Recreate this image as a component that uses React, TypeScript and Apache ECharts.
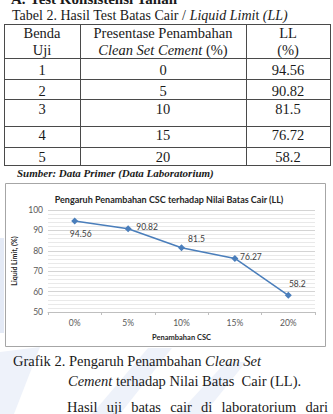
import React, { useEffect, useRef } from 'react';
import * as echarts from 'echarts';

// ---- Data ----
const categories = ['0%', '5%', '10%', '15%', '20%'];
const liquidLimit = [94.56, 90.82, 81.5, 76.27, 58.2];
const yMin = 50;
const yMax = 100;
const yInterval = 10;

const bendaUji = ['1', '2', '3', '4', '5'];
const persenCSC = ['0', '5', '10', '15', '20'];
const llTable = ['94.56', '90.82', '81.5', '76.72', '58.2'];

const chartTitle = 'Pengaruh Penambahan CSC terhadap Nilai Batas Cair (LL)';
const xName = 'Penambahan CSC';
const yName = 'Liquid Limit, (%)';
const paragraphWords = 'Hasil uji batas cair di laboratorium dari'.split(' ');

// ---- Styles / layout ----
const SERIF = '"Liberation Serif", "Times New Roman", serif';
const SANS = 'Lato, "Open Sans", "Liberation Sans", sans-serif';
const BLUE = '#4a7ebb';
const labelOffsets = [[6, 13], [19, -2], [15, -9], [16, -1], [9, -11]];
const tableHLines = [24, 58, 79, 99, 126, 147, 165];
const tableVLines = [4, 80, 246, 330];
const colCenters = [42, 163, 288];
const rowTextY = [70, 91, 109, 135, 157];

function measure(text: string, font: string): number {
  const c = document.createElement('canvas');
  const ctx = c.getContext('2d');
  if (!ctx) return text.length * 6;
  ctx.font = font;
  return ctx.measureText(text).width;
}

function buildGraphic(): any[] {
  const els: any[] = [];
  const txt = (text: string, x: number, y: number, size: number, opts: any = {}) => ({
    type: 'text',
    silent: true,
    style: {
      text,
      x,
      y,
      fontFamily: SERIF,
      fontSize: size,
      fill: '#1a1a1a',
      textAlign: opts.align || 'left',
      textVerticalAlign: 'middle',
      fontWeight: opts.weight || 'normal',
      fontStyle: opts.style || 'normal',
      rich: opts.rich,
    },
  });
  // watermark (faint)
  const wm = '#eef2fa';
  els.push({ type: 'rect', silent: true, z: -10, shape: { x: 0, y: 238, width: 4, height: 95 }, style: { fill: '#e4eaf6' } });
  els.push({ type: 'polygon', silent: true, z: -10, shape: { points: [[0, 352], [40, 347], [14, 414], [0, 414]] }, style: { fill: wm } });
  els.push({ type: 'polygon', silent: true, z: -10, shape: { points: [[92, 414], [148, 348], [172, 348], [120, 414]] }, style: { fill: wm } });
  els.push({ type: 'polygon', silent: true, z: -10, shape: { points: [[178, 414], [226, 362], [246, 362], [204, 414]] }, style: { fill: wm } });

  // heading (cut off at top)
  els.push(txt('A.', 11, -1, 15, { weight: 'bold' }));
  els.push(txt('Test Konsistensi Tanah', 30, -1, 15, { weight: 'bold' }));

  // table title
  els.push(txt('{n|Tabel 2. Hasil Test Batas Cair / }{i|Liquid Limi}{n|t }{i|(LL)}', 12, 15, 14, {
    rich: {
      n: { fontFamily: SERIF, fontSize: 14, fill: '#1a1a1a' },
      i: { fontFamily: SERIF, fontSize: 14, fontStyle: 'italic', fill: '#1a1a1a' },
    },
  }));

  // table lines
  tableHLines.forEach((y) => {
    els.push({ type: 'line', silent: true, shape: { x1: tableVLines[0], y1: y + 0.5, x2: tableVLines[3], y2: y + 0.5 }, style: { stroke: '#4a4a4a', lineWidth: 1 } });
  });
  tableVLines.forEach((x) => {
    els.push({ type: 'line', silent: true, shape: { x1: x + 0.5, y1: tableHLines[0], x2: x + 0.5, y2: tableHLines[tableHLines.length - 1] + 1 }, style: { stroke: '#4a4a4a', lineWidth: 1 } });
  });

  // table header
  const TS = 14.5;
  els.push(txt('Benda', colCenters[0], 33, TS, { align: 'center' }));
  els.push(txt('Uji', colCenters[0], 50, TS, { align: 'center' }));
  els.push(txt('Presentase Penambahan', colCenters[1], 33, TS, { align: 'center' }));
  els.push(txt('{i|Clean Set Cement} {n|(%)}', colCenters[1], 50, TS, {
    align: 'center',
    rich: {
      n: { fontFamily: SERIF, fontSize: TS, fill: '#1a1a1a' },
      i: { fontFamily: SERIF, fontSize: TS, fontStyle: 'italic', fill: '#1a1a1a' },
    },
  }));
  els.push(txt('LL', colCenters[2], 33, TS, { align: 'center' }));
  els.push(txt('(%)', colCenters[2], 50, TS, { align: 'center' }));

  // table rows
  bendaUji.forEach((b, i) => {
    els.push(txt(b, colCenters[0], rowTextY[i], TS, { align: 'center' }));
    els.push(txt(persenCSC[i], colCenters[1], rowTextY[i], TS, { align: 'center' }));
    els.push(txt(llTable[i], colCenters[2], rowTextY[i], TS, { align: 'center' }));
  });

  // source
  els.push(txt('Sumber: Data Primer (Data Laboratorium)', 17, 173, 11, { weight: 'bold', style: 'italic' }));

  // chart box
  els.push({ type: 'rect', silent: true, shape: { x: 5.5, y: 183.5, width: 320, height: 163 }, style: { fill: null, stroke: '#a6a6a6', lineWidth: 1 } });

  // caption
  const CS = 14.5;
  const capRich = {
    n: { fontFamily: SERIF, fontSize: CS, fill: '#1a1a1a' },
    i: { fontFamily: SERIF, fontSize: CS, fontStyle: 'italic', fill: '#1a1a1a' },
  };
  els.push(txt('{n|Grafik 2. Pengaruh Penambahan }{i|Clean Set}', 13, 361, CS, { rich: capRich }));
  els.push(txt('{i|Cement}{n| terhadap Nilai Batas  Cair (LL).}', 68, 381, CS, { rich: capRich }));

  // justified paragraph line
  const pFont = `${CS}px ${SERIF}`;
  const widths = paragraphWords.map((w) => measure(w, pFont));
  const total = widths.reduce((a, b) => a + b, 0);
  const x0 = 67;
  const x1 = 328;
  const gap = (x1 - x0 - total) / (paragraphWords.length - 1);
  let cx = x0;
  paragraphWords.forEach((w, i) => {
    els.push(txt(w, cx, 407, CS));
    cx += widths[i] + gap;
  });
  return els;
}

export default function App() {
  const ref = useRef<HTMLDivElement>(null);
  useEffect(() => {
    if (!ref.current) return;
    const chart = echarts.init(ref.current, undefined, { renderer: 'svg' });
    chart.setOption({
      animation: false,
      backgroundColor: '#ffffff',
      title: {
        text: chartTitle,
        left: 164,
        top: 190,
        textAlign: 'center',
        textStyle: { fontFamily: SANS, fontSize: 9, fontWeight: 'bold', color: '#262626' },
      },
      grid: { left: 48, right: 18, top: 210, bottom: 102, containLabel: false },
      xAxis: {
        type: 'category',
        data: categories,
        boundaryGap: true,
        name: xName,
        nameLocation: 'middle',
        nameGap: 21,
        nameTextStyle: { fontFamily: SANS, fontSize: 7.5, fontWeight: 'bold', color: '#262626' },
        axisLine: { lineStyle: { color: '#bfbfbf' } },
        axisTick: { show: true, length: 3, lineStyle: { color: '#bfbfbf' } },
        axisLabel: { color: '#595959', fontFamily: SANS, fontSize: 8.5, margin: 6 },
      },
      yAxis: {
        type: 'value',
        min: yMin,
        max: yMax,
        interval: yInterval,
        name: yName,
        nameLocation: 'middle',
        nameGap: 22,
        nameRotate: 90,
        nameTextStyle: { fontFamily: SANS, fontSize: 7, fontWeight: 'bold', color: '#262626' },
        axisLine: { show: false },
        axisTick: { show: false },
        axisLabel: { color: '#595959', fontFamily: SANS, fontSize: 8.5, margin: 5 },
        splitLine: { show: true, lineStyle: { color: '#d4d4d4', width: 1 } },
        minorTick: { show: false, splitNumber: 5 },
        minorSplitLine: { show: true, lineStyle: { color: '#e9e9e9', width: 1 } },
      },
      series: [
        {
          type: 'line',
          data: liquidLimit.map((v, i) => ({ value: v, label: { offset: labelOffsets[i] } })),
          symbol: 'diamond',
          symbolSize: 7,
          itemStyle: { color: BLUE },
          lineStyle: { color: BLUE, width: 1.5 },
          label: {
            show: true,
            position: 'inside',
            color: '#404040',
            fontFamily: SANS,
            fontSize: 8.5,
          },
        },
      ],
      graphic: buildGraphic(),
    });
    return () => chart.dispose();
  }, []);
  return <div ref={ref} style={{ position: 'absolute', left: 0, top: 0, width: 333, height: 414 }} />;
}
